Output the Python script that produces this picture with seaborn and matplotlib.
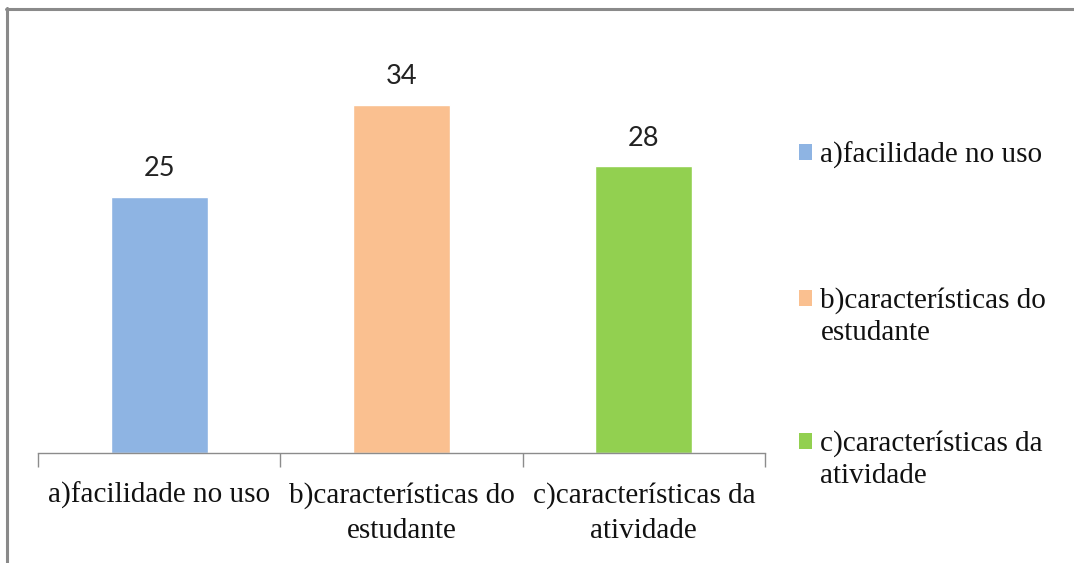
import matplotlib
matplotlib.use("Agg")
import matplotlib.pyplot as plt
from matplotlib.patches import Patch, Rectangle
from matplotlib.lines import Line2D
from matplotlib.legend_handler import HandlerPatch
import seaborn as sns
import pandas as pd

categories = ["a)facilidade no uso", "b)características do\nestudante", "c)características da\natividade"]
values = [25, 34, 28]
colors = ["#8EB4E3", "#FAC090", "#92D050"]

sns.set_theme(style="white")
SERIF = ["Liberation Serif", "DejaVu Serif"]
plt.rcParams["font.family"] = SERIF

df = pd.DataFrame({"categoria": categories, "valor": values})

fig = plt.figure(figsize=(10.74, 5.63), dpi=100)
ax = fig.add_axes([38 / 1074, 1 - 453 / 563, 727 / 1074, 410 / 563])

sns.barplot(data=df, x="categoria", y="valor", hue="categoria", palette=colors,
            width=0.40, legend=False, ax=ax, saturation=1)

for bar, v in zip(ax.patches, values):
    ax.text(bar.get_x() + bar.get_width() / 2, bar.get_height() + 1.5, f"{v}",
            ha="center", va="bottom", fontsize=19.5, family=["Lato", "DejaVu Sans"],
            color="#222222")

ax.set_ylim(0, 40)
ax.set_xlim(-0.5, 2.5)
ax.set_xlabel("")
ax.set_ylabel("")
ax.set_yticks([])
for s in ["top", "right", "left"]:
    ax.spines[s].set_visible(False)
ax.spines["bottom"].set_color("#8c8c8c")
ax.spines["bottom"].set_linewidth(1.0)

ax.set_xticks(range(len(categories)))
ax.set_xticklabels(categories, fontsize=21, color="#111111", linespacing=1.45,
                   family=SERIF)
ax.tick_params(axis="x", which="major", length=0, pad=21)
ax.set_xticks([-0.5, 0.5, 1.5, 2.5], minor=True)
ax.tick_params(axis="x", which="minor", length=10, color="#8c8c8c", width=1.0, bottom=True)

LEG_SPACING = 1.3


def square_on_first_line(n_lines):
    def make(legend, orig_handle, xdescent, ydescent, width, height, fontsize):
        shift = 0.5 * LEG_SPACING * 0.92 * fontsize * (n_lines - 1)
        return Rectangle((-xdescent, -ydescent + shift), width, height)
    return make


# one legend per entry, each placed at its own height
legend_tops = [127, 272, 415]
for cat, col, top in zip(categories, colors, legend_tops):
    h = Patch(facecolor=col, edgecolor="none")
    n_lines = cat.count("\n") + 1
    fig.legend([h], [cat], loc="upper left",
               bbox_to_anchor=(784 / 1074, 1 - top / 563), frameon=False,
               prop={"family": SERIF, "size": 21},
               handlelength=0.45, handleheight=0.45, handletextpad=0.3,
               borderpad=0,
               handler_map={h: HandlerPatch(patch_func=square_on_first_line(n_lines))})
for lg in fig.legends:
    for t in lg.get_texts():
        t.set_linespacing(LEG_SPACING)
        t.set_color("#111111")

# chart area frame (top and left edges)
fig.add_artist(Line2D([7 / 1074, 7 / 1074], [0, 1 - 8 / 563], transform=fig.transFigure,
                      color="#8a8a8a", linewidth=2.2))
fig.add_artist(Line2D([6 / 1074, 1], [1 - 8.5 / 563, 1 - 8.5 / 563], transform=fig.transFigure,
                      color="#8a8a8a", linewidth=2.2))

fig.savefig("out.png", dpi=100)
